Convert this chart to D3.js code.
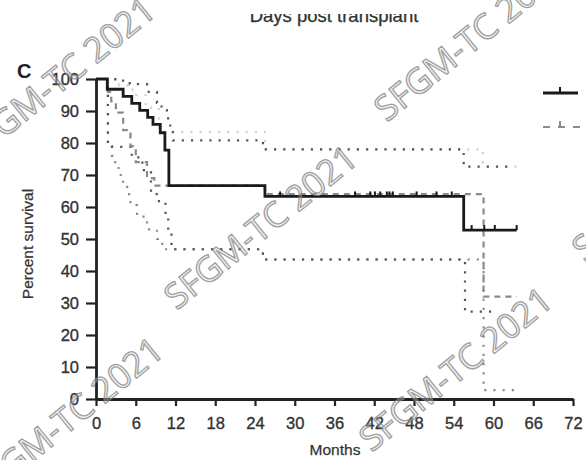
<!DOCTYPE html>
<html>
<head>
<meta charset="utf-8">
<script src="https://cdn.jsdelivr.net/npm/d3@7"></script>
<style>
  html, body { margin: 0; padding: 0; background: #fff; }
  svg { display: block; font-family: "Liberation Sans", Arial, sans-serif; }
</style>
</head>
<body>
<svg id="chart" width="586" height="460"></svg>
<script>
// Axis ticks
const xTicks = [0, 6, 12, 18, 24, 30, 36, 42, 48, 54, 60, 66, 72];
const yTicks = [0, 10, 20, 30, 40, 50, 60, 70, 80, 90, 100];

// Group 1: Kaplan-Meier estimate (months, percent survival)
const g1Time = [0, 1.7, 4.1, 5.4, 6.6, 7.8, 8.6, 9.7, 10.4, 11.0, 25.5, 55.5, 63.5];
const g1Surv = [100, 96.8, 94.6, 92.4, 90.2, 88.0, 85.8, 83.2, 77.8, 66.7, 63.3, 52.8, 52.8];
const g1Censored = [27.8, 39.1, 41.4, 42.1, 42.9, 43.9, 44.3, 44.8, 48.4, 51.4, 53.7, 56.7, 58.6, 60.2, 63.5];
// Group 1: 95% confidence band
const g1UpperTime = [0, 2.9, 5.1, 7.7, 9.2, 9.9, 10.7, 11.2, 11.6, 25.2, 55.5, 63.0];
const g1Upper = [100, 99.5, 98.4, 96.0, 92.5, 90.3, 87.7, 84.6, 80.8, 78.0, 72.6, 72.6];
const g1LowerTime = [0, 1.8, 5.4, 7.0, 8.3, 9.5, 10.5, 10.9, 11.4, 25.2, 55.7, 60.0];
const g1Lower = [100, 78.8, 75.5, 71.5, 64.0, 61.0, 57.0, 52.0, 46.8, 43.6, 27.3, 27.3];

// Group 2: Kaplan-Meier estimate
const g2Time = [0, 1.8, 2.3, 3.0, 4.1, 5.2, 6.0, 7.7, 8.8, 25.5, 58.5, 63.5];
const g2Surv = [100, 96.0, 93.0, 89.5, 84.0, 79.0, 74.0, 69.0, 66.7, 64.0, 32.0, 32.0];
// Group 2: 95% confidence band
const g2UpperTime = [0, 3.5, 5.5, 7.5, 9.5, 25.5, 58.4, 63.5];
const g2Upper = [100, 98.0, 95.0, 91.0, 83.5, 78.0, 72.6, 72.6];
const g2LowerTime = [0, 1.8, 2.4, 2.9, 3.4, 4.1, 4.7, 5.2, 6.2, 7.7, 9.2, 10.0, 25.2, 58.5, 63.5];
const g2Lower = [100, 79, 76, 73, 70, 67, 64, 60.6, 57, 53, 50, 46.8, 43.6, 2.8, 2.8];

// Watermark stamps (centre x, centre y)
const stampText = "SFGM-TC 2021";
const stampX = [58, 470, 260, 66, 455, 668];
const stampY = [78, 38, 226, 418, 368, 178];

const svg = d3.select("#chart");
const x = d3.scaleLinear().domain([0, 72]).range([96, 573]);
const y = d3.scaleLinear().domain([0, 100]).range([399, 79]);

const zip = (ts, vs) => ts.map((t, i) => [t, vs[i]]);
const stepLine = d3.line().x(d => x(d[0])).y(d => y(d[1])).curve(d3.curveStepAfter);

// Header text, partly hidden by the panel above
svg.append("clipPath").attr("id", "headClip")
  .append("rect").attr("x", 0).attr("y", 14).attr("width", 586).attr("height", 20);
svg.append("text")
  .attr("clip-path", "url(#headClip)")
  .attr("x", 334).attr("y", 22)
  .attr("text-anchor", "middle")
  .attr("font-size", 18.5).attr("fill", "#333")
  .attr("stroke", "#333").attr("stroke-width", 0.3)
  .text("Days post transplant");

// Panel letter
svg.append("text").attr("x", 17).attr("y", 78)
  .attr("font-size", 20).attr("font-weight", "bold").attr("fill", "#222")
  .text("C");

// Confidence bands (dotted)
const bands = [
  { pts: zip(g2UpperTime, g2Upper), color: "#d2d2d2" },
  { pts: zip(g2LowerTime, g2Lower), color: "#8c8c8c" },
  { pts: zip(g1UpperTime, g1Upper), color: "#555" },
  { pts: zip(g1LowerTime, g1Lower), color: "#555" }
];
svg.append("g").selectAll("path").data(bands).join("path")
  .attr("d", d => stepLine(d.pts))
  .attr("fill", "none").attr("stroke", d => d.color)
  .attr("stroke-width", 2.2).attr("stroke-dasharray", "2.2 7");

// Group 2 survival (grey dashed)
svg.append("path")
  .attr("d", stepLine(zip(g2Time, g2Surv)))
  .attr("fill", "none").attr("stroke", "#8a8a8a")
  .attr("stroke-width", 2.2).attr("stroke-dasharray", "6 5");

// Group 1 survival (black solid)
svg.append("path")
  .attr("d", stepLine(zip(g1Time, g1Surv)))
  .attr("fill", "none").attr("stroke", "#1a1a1a").attr("stroke-width", 2.8);

// Censor ticks on group 1
const survAt = t => { let v = g1Surv[0]; g1Time.forEach((tt, i) => { if (tt <= t) v = g1Surv[i]; }); return v; };
svg.append("g").selectAll("line").data(g1Censored).join("line")
  .attr("x1", d => x(d)).attr("x2", d => x(d))
  .attr("y1", d => y(survAt(d))).attr("y2", d => y(survAt(d)) - 5)
  .attr("stroke", "#1a1a1a").attr("stroke-width", 2);

// Axes
const yAxis = svg.append("g").attr("transform", `translate(${x(0)},0)`)
  .call(d3.axisLeft(y).tickValues(yTicks).tickSize(10).tickPadding(7).tickSizeOuter(0));
const xAxis = svg.append("g").attr("transform", `translate(0,${y(0)})`)
  .call(d3.axisBottom(x).tickValues(xTicks).tickSize(7).tickPadding(11).tickSizeOuter(0));
[yAxis, xAxis].forEach(a => {
  a.select(".domain").attr("stroke", "#222").attr("stroke-width", 2.8);
  a.selectAll(".tick line").attr("stroke", "#222").attr("stroke-width", 2.2);
  a.selectAll(".tick text").attr("font-size", 16.5).attr("fill", "#333")
    .attr("stroke", "#333").attr("stroke-width", 0.35)
    .attr("font-family", "'Liberation Sans', Arial, sans-serif");
});

// Axis titles
svg.append("text").attr("x", 335).attr("y", 455).attr("text-anchor", "middle")
  .attr("font-size", 15.5).attr("fill", "#333").attr("stroke", "#333").attr("stroke-width", 0.25)
  .text("Months");
svg.append("text").attr("transform", "translate(33,244) rotate(-90)")
  .attr("text-anchor", "middle").attr("font-size", 15.5).attr("fill", "#333")
  .attr("stroke", "#333").attr("stroke-width", 0.25)
  .text("Percent survival");

// Legend symbols (labels lie beyond the right edge)
const leg = svg.append("g");
leg.append("line").attr("x1", 543).attr("x2", 578).attr("y1", 93).attr("y2", 93)
  .attr("stroke", "#1a1a1a").attr("stroke-width", 2.8);
leg.append("line").attr("x1", 560).attr("x2", 560).attr("y1", 93).attr("y2", 87)
  .attr("stroke", "#1a1a1a").attr("stroke-width", 2);
leg.append("line").attr("x1", 543).attr("x2", 580).attr("y1", 127).attr("y2", 127)
  .attr("stroke", "#8a8a8a").attr("stroke-width", 2.2).attr("stroke-dasharray", "7 8");
leg.append("line").attr("x1", 560).attr("x2", 560).attr("y1", 127).attr("y2", 121)
  .attr("stroke", "#8a8a8a").attr("stroke-width", 2);

// Watermark stamps
svg.append("g").selectAll("text").data(stampX).join("text")
  .attr("transform", (d, i) => `translate(${d},${stampY[i]}) rotate(-39)`)
  .attr("text-anchor", "middle").attr("dominant-baseline", "central")
  .attr("font-family", "'Open Sans', 'DejaVu Sans', sans-serif")
  .attr("font-size", 35)
  .attr("fill", "rgba(215,215,215,0.35)")
  .attr("stroke", "rgba(120,120,120,0.7)").attr("stroke-width", 1.3)
  .text(stampText);
</script>
</body>
</html>
